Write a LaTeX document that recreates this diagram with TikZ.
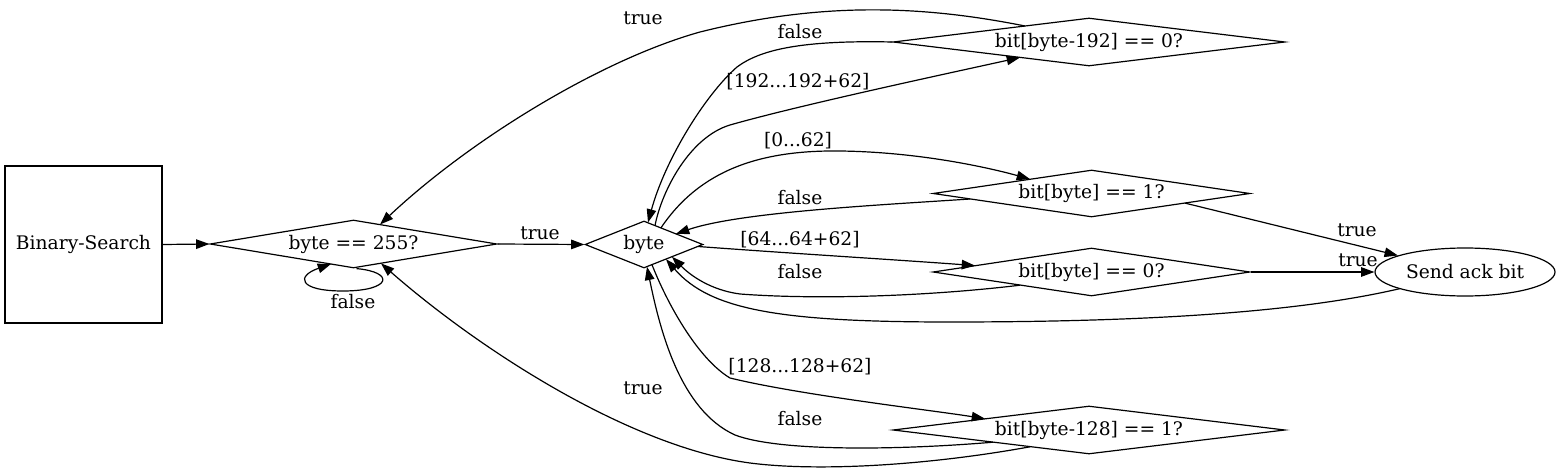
\documentclass[tikz,border=0pt]{standalone}
\usepackage{fontspec}
\setmainfont{DejaVu Serif}
\usetikzlibrary{shapes.geometric,arrows.meta,calc}
\tikzset{
  every node/.style={font=\fontsize{18.67}{22}\selectfont, inner sep=0pt},
  dia/.style={draw, diamond, line width=1.2pt, inner sep=0pt},
  lbl/.style={anchor=center},
  edge/.style={draw, line width=1.2pt, -{Triangle[length=13.3pt,width=9.5pt]}},
}
\begin{document}
\begin{tikzpicture}[x=1pt,y=-1pt]
\useasboundingbox (0,0) rectangle (1563,473);
% nodes
\node[draw, rectangle, line width=1.2pt, minimum width=157pt, minimum height=157pt] (bs) at (83.5,244.5) {Binary-Search};
\node[dia, aspect=5.98, minimum width=287pt, minimum height=48pt] (b255) at (353.5,244) {byte == 255?};
\node[dia, aspect=2.51, minimum width=118pt, minimum height=47pt] (byte) at (644,244.5) {byte};
\node[dia, aspect=8.17, minimum width=392pt, minimum height=48pt] (b192) at (1089,42) {bit[byte-192] == 0?};
\node[dia, aspect=6.74, minimum width=317pt, minimum height=47pt] (b1) at (1091.5,193.5) {bit[byte] == 1?};
\node[dia, aspect=6.6, minimum width=317pt, minimum height=48pt] (b0) at (1091.5,272) {bit[byte] == 0?};
\node[dia, aspect=8.17, minimum width=392pt, minimum height=48pt] (b128) at (1089,430) {bit[byte-128] == 1?};
\node[draw, ellipse, line width=1.2pt, minimum width=180pt, minimum height=48pt] (ack) at (1465,272) {Send ack bit};

% edges
\path[edge] (bs.east) -- (b255.west);
\path[edge] (b255.east) -- (byte.west);
\path[edge] ($(b255.south)+(3,0)$) .. controls (395,272) and (392,291) .. (343,291)
   .. controls (298,291) and (296,276) .. ($(b255)+(-22.5,20)$);
\path[edge] ($(byte)+(11,-19)$) .. controls (662,190) and (690,137) .. (730,125)
   .. controls (800,105) and (950,73) .. ($(b192)+(-69,15.5)$);
\path[edge] (b192.west) .. controls (800,40) and (760,50) .. (737,67)
   .. controls (705,95) and (665,160) .. ($(byte)+(4,-22)$);
\path[edge] ($(b192)+(-64,-16)$) .. controls (920,5) and (820,2) .. (700,32)
   .. controls (600,60) and (470,140) .. ($(b255)+(26.5,-19.5)$);
\path[edge] ($(byte)+(17,-16.7)$) .. controls (700,170) and (760,150) .. (840,151)
   .. controls (920,152) and (990,168) .. ($(b1)+(-61.5,-14.4)$);
\path[edge] ($(b1)+(-121.5,5.5)$) .. controls (880,205) and (740,212) .. ($(byte)+(32,-10.7)$);
\path[edge] ($(b1)+(93.5,9.6)$) -- (ack);
\path[edge] ($(byte)+(54,2)$) .. controls (800,254) and (900,260) .. ($(b0)+(-116.5,-6.4)$);
\path[edge] ($(b0)+(-71.5,13.2)$) .. controls (930,296) and (820,300) .. (740,294)
   .. controls (710,290) and (690,275) .. ($(byte)+(28,12.3)$);
\path[edge] (b0.east) -- (ack.west);
\path[edge] ($(ack)+(-65,16.6)$) .. controls (1300,312) and (1150,322) .. (950,322)
   .. controls (780,322) and (710,310) .. ($(byte)+(22,14.7)$);
\path[edge] ($(byte)+(8,20.3)$) .. controls (670,310) and (700,360) .. (730,378)
   .. controls (800,395) and (930,410) .. ($(b128)+(-104,-11.3)$);
\path[edge] ($(b128)+(-96,12.2)$) .. controls (900,450) and (780,452) .. (735,435)
   .. controls (680,410) and (660,330) .. ($(byte)+(3,22.3)$);
\path[edge] ($(b128)+(-59,16.8)$) .. controls (930,465) and (820,472) .. (750,463)
   .. controls (630,447) and (480,350) .. ($(b255)+(27.5,19.4)$);

% labels
\node[lbl] (l1) at (540,233) {true};
\node[lbl] (l2) at (353,302) {false};
\node[lbl] (l3) at (798,82) {[192...192+62]};
\node[lbl] (l4) at (800,32) {false};
\node[lbl] (l5) at (643,18) {true};
\node[lbl] (l6) at (798,141) {[0...62]};
\node[lbl] (l7) at (800,198) {false};
\node[lbl] (l8) at (1357,230) {true};
\node[lbl] (l9) at (800,240) {[64...64+62]};
\node[lbl] (l10) at (800,272) {false};
\node[lbl] (l11) at (1358,260) {true};
\node[lbl] (l12) at (800,367) {[128...128+62]};
\node[lbl] (l13) at (800,419) {false};
\node[lbl] (l14) at (643,388) {true};
\end{tikzpicture}
\end{document}
